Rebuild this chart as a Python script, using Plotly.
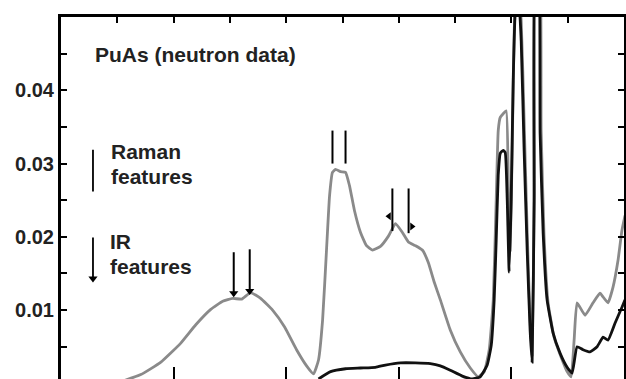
import plotly.graph_objects as go

# ---------------- data ----------------
# Neutron data (gray curve): energy (arb. units 0-50) and intensity
gray_x = [4.88, 7.09, 8.87, 10.64, 11.97, 13.30, 14.36, 15.25, 16.05, 16.84,
          17.73, 18.79, 19.86, 20.92, 21.81, 22.43, 22.87, 23.23, 23.58, 23.85,
          24.11, 24.38, 24.82, 25.27, 25.62, 26.06, 26.60, 27.13, 27.66, 28.37,
          29.08, 29.70, 30.32, 30.85, 31.47, 32.09, 32.62, 33.15, 33.69, 34.57,
          35.46, 36.35, 37.06, 37.59, 38.03, 38.39, 38.65, 38.83, 39.01, 39.27,
          39.54, 39.72, 39.89, 40.07, 40.25, 40.51, 40.87, 41.13, 41.40, 41.66,
          41.84, 42.02, 42.20, 42.46, 42.64, 42.90, 43.26, 43.79, 44.41, 44.95,
          45.30, 45.57, 45.83, 46.54, 47.25, 47.87, 48.14, 48.58, 49.02, 49.47,
          49.82, 50.09]
gray_y = [0.0000, 0.0012, 0.0029, 0.0055, 0.0080, 0.0101, 0.0112, 0.0116, 0.0115, 0.0124,
          0.0116, 0.0100, 0.0077, 0.0046, 0.0024, 0.0013, 0.0032, 0.0086, 0.0182, 0.0256,
          0.0288, 0.0292, 0.0289, 0.0288, 0.0270, 0.0236, 0.0206, 0.0188, 0.0182, 0.0187,
          0.0201, 0.0218, 0.0206, 0.0193, 0.0188, 0.0182, 0.0165, 0.0138, 0.0114, 0.0073,
          0.0043, 0.0021, 0.0009, 0.0016, 0.0046, 0.0114, 0.0250, 0.0345, 0.0363, 0.0368,
          0.0372, 0.0277, 0.0182, 0.0318, 0.0481, 0.0560, 0.0495, 0.0359, 0.0209, 0.0086,
          0.0039, 0.0250, 0.0600, 0.0600, 0.0345, 0.0202, 0.0110, 0.0063, 0.0036, 0.0016,
          0.0009, 0.0059, 0.0110, 0.0093, 0.0110, 0.0123, 0.0118, 0.0110, 0.0131, 0.0168,
          0.0209, 0.0229]

# Second spectrum (black curve)
black_x = [22.87, 23.94, 25.27, 26.60, 27.92, 28.81, 30.14, 31.47, 32.80, 33.69,
           34.57, 35.64, 36.52, 37.23, 37.85, 38.21, 38.47, 38.65, 38.83, 39.01,
           39.27, 39.45, 39.63, 39.80, 39.98, 40.16, 40.34, 40.60, 40.87, 41.13,
           41.40, 41.66, 41.84, 42.02, 42.15, 42.37, 42.55, 42.82, 43.17, 43.70,
           44.33, 44.95, 45.39, 45.83, 46.36, 46.98, 47.61, 48.14, 48.58, 49.20,
           49.82, 50.09]
black_y = [0.0006, 0.0016, 0.0020, 0.0021, 0.0022, 0.0025, 0.0028, 0.0028, 0.0027, 0.0024,
           0.0018, 0.0010, 0.0006, 0.0009, 0.0025, 0.0052, 0.0114, 0.0195, 0.0284, 0.0314,
           0.0318, 0.0315, 0.0250, 0.0152, 0.0250, 0.0413, 0.0508, 0.0540, 0.0467, 0.0318,
           0.0182, 0.0073, 0.0029, 0.0250, 0.0600, 0.0600, 0.0341, 0.0205, 0.0114, 0.0069,
           0.0041, 0.0022, 0.0014, 0.0050, 0.0046, 0.0043, 0.0050, 0.0063, 0.0059, 0.0082,
           0.0104, 0.0114]

# Feature markers: (x, y_top, y_bottom)
raman_x = [24.11, 25.27]
raman_top = [0.0345, 0.0345]
raman_bot = [0.0300, 0.0300]

ir_x = [15.34, 16.76, 29.43, 30.87]
ir_top = [0.0179, 0.0183, 0.0266, 0.0266]
ir_bot = [0.0120, 0.0123, 0.0208, 0.0205]

y_tick_vals = [0.005, 0.01, 0.015, 0.02, 0.025, 0.03, 0.035, 0.04, 0.045]
y_tick_text = ["", "0.01", "", "0.02", "", "0.03", "", "0.04", ""]

FONT = "Liberation Sans, Arial, sans-serif"
TXT = "#222222"

fig = go.Figure()

fig.add_trace(go.Scatter(x=gray_x, y=gray_y, mode="lines",
                         line=dict(color="#8a8a8a", width=2.8, shape="spline", smoothing=0.4),
                         hoverinfo="skip"))
fig.add_trace(go.Scatter(x=black_x, y=black_y, mode="lines",
                         line=dict(color="#111111", width=2.8, shape="spline", smoothing=0.4),
                         hoverinfo="skip"))
# dummy trace to materialise the bottom tick axis
fig.add_trace(go.Scatter(x=[0], y=[0.02], xaxis="x2", mode="markers",
                         marker=dict(opacity=0), hoverinfo="skip"))

shapes = []
# Raman feature bars
for xv, yt, yb in zip(raman_x, raman_top, raman_bot):
    shapes.append(dict(type="line", xref="x", yref="y", x0=xv, x1=xv, y0=yb, y1=yt,
                       line=dict(color="black", width=2)))
# IR feature arrows
for xv, yt, yb in zip(ir_x, ir_top, ir_bot):
    shapes.append(dict(type="line", xref="x", yref="y", x0=xv, x1=xv, y0=yb, y1=yt,
                       line=dict(color="black", width=2)))
# legend symbols
leg_x = 2.84
shapes.append(dict(type="line", xref="x", yref="y", x0=leg_x, x1=leg_x, y0=0.0262, y1=0.0319,
                   line=dict(color="black", width=1.8)))
shapes.append(dict(type="line", xref="x", yref="y", x0=leg_x, x1=leg_x, y0=0.0140, y1=0.0199,
                   line=dict(color="black", width=1.8)))

# arrow heads
fig.add_trace(go.Scatter(x=ir_x[:2] + [leg_x], y=[ir_bot[0] + 0.0003, ir_bot[1] + 0.0003, 0.0143],
                         mode="markers",
                         marker=dict(symbol="triangle-down", size=8, color="black"),
                         hoverinfo="skip"))
fig.add_trace(go.Scatter(x=[ir_x[2] - 0.3], y=[0.0228], mode="markers",
                         marker=dict(symbol="triangle-left", size=7, color="black"),
                         hoverinfo="skip"))
fig.add_trace(go.Scatter(x=[ir_x[3] + 0.3], y=[0.0214], mode="markers",
                         marker=dict(symbol="triangle-right", size=7, color="black"),
                         hoverinfo="skip"))

annotations = [
    dict(text="PuAs (neutron data)", x=2.8, y=0.0449, xanchor="left", yanchor="middle"),
    dict(text="Raman", x=4.3, y=0.0316, xanchor="left", yanchor="middle"),
    dict(text="features", x=4.3, y=0.0283, xanchor="left", yanchor="middle"),
    dict(text="IR", x=4.2, y=0.0193, xanchor="left", yanchor="middle"),
    dict(text="features", x=4.2, y=0.0160, xanchor="left", yanchor="middle"),
]
for a in annotations:
    a.update(xref="x", yref="y", showarrow=False,
             font=dict(family=FONT, size=21, color=TXT, weight="bold"))

fig.update_layout(
    width=626, height=379,
    margin=dict(l=61, r=2, t=17, b=0),
    paper_bgcolor="white", plot_bgcolor="white",
    showlegend=False,
    shapes=shapes,
    annotations=annotations,
    xaxis=dict(range=[0, 50], side="top", showline=True, linecolor="black", linewidth=3,
               ticks="inside", tickvals=[5, 10, 15, 20, 25, 30, 35, 40, 45],
               ticklen=6, tickwidth=2, tickcolor="black",
               showticklabels=False, showgrid=False, zeroline=False),
    xaxis2=dict(range=[0, 50], overlaying="x", side="bottom", anchor="y",
                showline=False, ticks="inside", tickvals=[10, 20, 30, 40],
                ticklen=12, tickwidth=2, tickcolor="black",
                showticklabels=False, showgrid=False, zeroline=False),
    yaxis=dict(range=[0.0006, 0.05], showline=True, mirror="ticks", linecolor="black",
               linewidth=3, ticks="inside", ticklen=6, tickwidth=2, tickcolor="black",
               tickvals=y_tick_vals, ticktext=y_tick_text,
               tickfont=dict(family=FONT, size=20, color=TXT, weight="bold"),
               showgrid=False, zeroline=False),
)

fig.write_html("out.html")
